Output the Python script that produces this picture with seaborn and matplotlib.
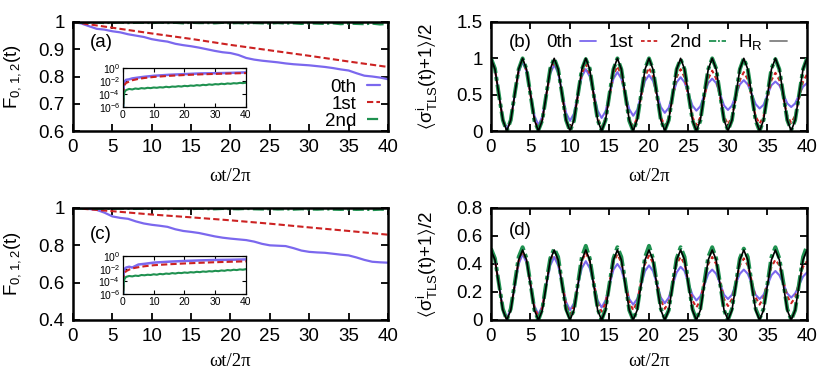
import numpy as np
import pandas as pd
import matplotlib
matplotlib.use("Agg")
import matplotlib.pyplot as plt
from matplotlib.ticker import FuncFormatter, FixedLocator
import seaborn as sns

# ---------------- data ----------------
# fidelity panels (a) and (c): time grid in units of wt/2pi
t_fid = list(range(0, 41))
fid_a_0th = [1.0, .995, .985, .975, .972, .966, .962, .955, .950, .945, .937,
             .932, .928, .920, .915, .911, .906, .900, .894, .889, .886,
             .879, .868, .862, .858, .855, .852, .848, .845, .843, .841,
             .838, .835, .831, .826, .822, .812, .803, .800, .796, .790]
fid_a_2nd = [1.0, .998, .997, .998, .996, .997, .998, .996, .997, .997, .996,
             .998, .996, .997, .995, .997, .996, .996, .995, .997, .995,
             .996, .994, .996, .995, .994, .996, .994, .995, .993, .995,
             .994, .993, .995, .992, .994, .993, .992, .994, .991, .993]
fid_c_0th = [1.0, .998, .995, .990, .975, .955, .947, .942, .928, .917, .910,
             .905, .899, .886, .877, .872, .866, .857, .848, .841, .836,
             .832, .828, .820, .808, .800, .798, .796, .785, .772, .765,
             .762, .760, .755, .750, .746, .735, .722, .712, .709, .707]
fid_c_2nd = [1.0, .997, .998, .996, .997, .995, .997, .996, .995, .997, .995,
             .996, .994, .996, .995, .994, .996, .994, .993, .995, .994,
             .993, .995, .993, .992, .994, .992, .993, .991, .993, .992,
             .991, .993, .991, .990, .992, .990, .991, .989, .991, .990]
t_red = [0, 5, 10, 15, 20, 25, 30, 35, 40]
fid_a_1st = [1.0, .979, .958, .938, .916, .896, .876, .855, .835]
fid_c_1st = [1.0, .983, .965, .950, .934, .916, .896, .877, .857]

# insets: 1 - F on log scale
t_in = [0, .25, .5, 1, 2, 3, 5, 7, 10, 15, 20, 25, 30, 35, 40]
inf_a_0th = [1e-7, 2e-3, 8e-3, 1.5e-2, 1.8e-2, 2.5e-2, 3.4e-2, 4.5e-2, 6.3e-2,
             9e-2, .114, .145, .159, .178, .21]
inf_a_1st = [1e-7, 6e-4, 2.5e-3, 5e-3, 8e-3, 1.3e-2, 2.1e-2, 2.9e-2, 4.2e-2,
             6.2e-2, 8.3e-2, .104, .124, .145, .165]
inf_c_0th = [1e-7, 2.5e-3, 9e-3, 1.5e-2, 2e-2, 1.5e-2, 4.5e-2, 5.8e-2, 9e-2,
             .128, .164, .2, .235, .254, .29]
inf_c_1st = [1e-7, 6e-4, 2e-3, 4e-3, 7e-3, 1.1e-2, 1.7e-2, 2.4e-2, 3.5e-2,
             5e-2, 6.6e-2, 8.4e-2, .104, .123, .143]
t_in_g = [0, .25, .5] + list(range(1, 41))
inf_a_2nd = [1e-7, 5e-5, 2e-4, 4e-4, 6e-4, 5e-4, 7e-4, 6e-4, 8e-4, 7e-4, 9e-4,
             8e-4, 1.0e-3, 9e-4, 1.1e-3, 1.0e-3, 1.3e-3, 1.1e-3, 1.4e-3, 1.3e-3,
             1.6e-3, 1.4e-3, 1.8e-3, 1.6e-3, 2.0e-3, 1.8e-3, 2.3e-3, 2.0e-3,
             2.6e-3, 2.3e-3, 3.0e-3, 2.6e-3, 3.3e-3, 3.0e-3, 3.8e-3, 3.3e-3,
             4.2e-3, 3.7e-3, 4.6e-3, 4.2e-3, 5.2e-3, 4.7e-3, 5.5e-3]
inf_c_2nd = [1e-7, 6e-5, 2.5e-4, 5e-4, 7e-4, 6e-4, 8e-4, 7e-4, 1.0e-3, 9e-4,
             1.1e-3, 1.0e-3, 1.3e-3, 1.1e-3, 1.5e-3, 1.3e-3, 1.7e-3, 1.5e-3,
             2.0e-3, 1.7e-3, 2.2e-3, 2.0e-3, 2.5e-3, 2.2e-3, 2.8e-3, 2.5e-3,
             3.2e-3, 2.8e-3, 3.6e-3, 3.2e-3, 4.0e-3, 3.6e-3, 4.6e-3, 4.0e-3,
             5.2e-3, 4.6e-3, 6.0e-3, 5.3e-3, 6.8e-3, 6.0e-3, 7.6e-3, 6.8e-3,
             8.5e-3]

# TLS population panels (b) and (d), sampled every half unit
t_osc = np.linspace(0, 40, 81)
pop_b_0th = [1.0, .86, .51, .16, .02, .16, .49, .81, .95, .82, .52, .21, .08,
             .20, .50, .79, .91, .80, .53, .25, .14, .24, .50, .75, .85, .75,
             .52, .28, .18, .27, .50, .72, .81, .72, .51, .30, .21, .29, .49,
             .69, .77, .69, .51, .33, .25, .32, .50, .67, .74, .67, .51, .35,
             .28, .34, .50, .66, .72, .66, .51, .35, .29, .35, .50, .64, .70,
             .64, .51, .37, .31, .36, .50, .63, .68, .63, .51, .38, .33, .38,
             .50, .61, .66]
pop_b_1st = [1.0, .85, .50, .15, .0, .14, .49, .83, .97, .83, .50, .16, .02,
             .16, .49, .81, .95, .82, .49, .16, .03, .16, .48, .79, .92, .79,
             .49, .18, .05, .17, .47, .77, .89, .77, .48, .18, .06, .18, .47,
             .75, .87, .75, .47, .19, .07, .18, .46, .74, .85, .74, .47, .19,
             .08, .19, .46, .72, .83, .72, .46, .20, .09, .20, .45, .70, .81,
             .71, .46, .20, .10, .20, .45, .70, .80, .70, .46, .21, .11, .21,
             .45, .68, .78]
pop_b_2nd = [1.0, .86, .50, .15, .0, .15, .51, .85, 1.0, .85, .50, .14, .01,
             .15, .50, .86, 1.0, .85, .51, .15, .0, .14, .50, .85, .99, .86,
             .50, .15, .01, .15, .51, .85, 1.0, .85, .50, .14, .0, .15, .50,
             .86, 1.0, .85, .51, .15, .01, .15, .50, .85, .99, .85, .50, .15,
             .0, .14, .51, .85, 1.0, .86, .50, .15, .01, .15, .50, .85, 1.0,
             .85, .50, .14, .0, .15, .51, .86, .99, .85, .50, .15, .01, .15,
             .50, .85, 1.0]
pop_b_hr = [1.0, .85, .5, .15, 0, .15, .5, .85] * 10 + [1.0]
pop_d_0th = [.50, .43, .26, .08, .01, .08, .24, .40, .47, .41, .26, .10, .04,
             .10, .25, .39, .45, .39, .26, .13, .07, .12, .25, .37, .42, .37,
             .26, .14, .09, .14, .25, .36, .40, .36, .26, .15, .11, .15, .25,
             .35, .39, .35, .26, .16, .12, .16, .25, .34, .38, .35, .26, .18,
             .14, .17, .25, .33, .36, .33, .26, .18, .15, .18, .26, .33, .36,
             .33, .26, .18, .15, .18, .25, .32, .35, .32, .26, .19, .16, .19,
             .25, .31, .34]
pop_d_1st = [.50, .43, .25, .07, .0, .07, .25, .42, .49, .42, .26, .09, .02,
             .09, .26, .42, .49, .42, .27, .11, .04, .10, .26, .42, .48, .42,
             .27, .12, .06, .12, .27, .41, .47, .41, .27, .13, .07, .13, .27,
             .40, .46, .41, .27, .14, .08, .13, .27, .40, .45, .40, .27, .14,
             .09, .14, .27, .40, .45, .40, .28, .15, .10, .15, .27, .39, .44,
             .39, .28, .16, .11, .16, .27, .38, .43, .39, .28, .17, .12, .16,
             .27, .38, .42]
pop_d_2nd = [.51, .44, .26, .08, .0, .08, .26, .45, .52, .44, .26, .07, .0,
             .08, .27, .44, .51, .45, .26, .08, .01, .07, .26, .45, .53, .44,
             .26, .08, .0, .08, .26, .44, .52, .45, .27, .07, .0, .08, .26,
             .45, .53, .44, .26, .08, .01, .07, .26, .44, .52, .45, .26, .08,
             .0, .08, .27, .45, .52, .44, .26, .07, .0, .08, .26, .44, .51,
             .45, .26, .08, .01, .08, .26, .45, .52, .44, .27, .08, .0, .07,
             .26, .45, .53]
pop_d_hr = [.5, .43, .25, .07, 0, .07, .25, .43] * 10 + [.5]

# ---------------- style ----------------
sns.set_style("ticks")
plt.rcParams["font.family"] = ["Liberation Sans", "DejaVu Sans"]
plt.rcParams["mathtext.default"] = "regular"
plt.rcParams["axes.linewidth"] = 1.8
plt.rcParams["axes.edgecolor"] = "black"
plt.rcParams["text.color"] = "black"
plt.rcParams["axes.labelcolor"] = "black"
plt.rcParams["xtick.color"] = "black"
plt.rcParams["ytick.color"] = "black"
plt.rcParams["xtick.direction"] = "in"
plt.rcParams["ytick.direction"] = "in"

C0, C1, C2, CH = "#7b68ee", "#cc2222", "#1f9150", "black"
FS = 13.5

fig = plt.figure(figsize=(8.37, 3.74), dpi=100)
W = 837.0
H = 374.0


def box(l, t, r, b):
    return [l / W, 1 - b / H, (r - l) / W, (b - t) / H]


ax_a = fig.add_axes(box(73, 22, 388, 131))
ax_b = fig.add_axes(box(491, 22, 807, 131))
ax_c = fig.add_axes(box(73, 208, 388, 320))
ax_d = fig.add_axes(box(491, 208, 807, 320))
in_a = fig.add_axes(box(123, 68, 246, 107))
in_c = fig.add_axes(box(123, 256, 246, 294))

fmt = FuncFormatter(lambda v, p: "%g" % v)


def style_main(ax, yticks, ylab, ylab_x, xlab_y, tag, tag_y):
    ax.set_xlim(0, 40)
    ax.set_ylim(yticks[0], yticks[-1])
    ax.xaxis.set_major_locator(FixedLocator(range(0, 41, 5)))
    ax.yaxis.set_major_locator(FixedLocator(yticks))
    ax.xaxis.set_major_formatter(fmt)
    ax.yaxis.set_major_formatter(fmt)
    ax.tick_params(direction="in", top=True, right=True, length=5, width=1.3,
                   labelsize=FS, pad=6)
    ax.set_xlabel("ωt/2π", fontsize=FS, family=["Liberation Serif", "DejaVu Serif"])
    ax.xaxis.set_label_coords(0.5, xlab_y)
    ax.set_ylabel(ylab, fontsize=FS)
    ax.yaxis.set_label_coords(ylab_x, 0.5)
    ax.text(0.055, tag_y, tag, transform=ax.transAxes, fontsize=FS,
            va="center")


def style_inset(ax):
    ax.set_yscale("log")
    ax.set_xlim(0, 40)
    ax.set_ylim(1e-6, 1)
    ax.xaxis.set_major_locator(FixedLocator([0, 10, 20, 30, 40]))
    ax.yaxis.set_major_locator(FixedLocator([1e-6, 1e-4, 1e-2, 1]))
    ax.yaxis.set_minor_locator(FixedLocator([]))
    ax.yaxis.set_major_formatter(FuncFormatter(
        lambda v, p: "$10^{%d}$" % round(np.log10(v))))
    ax.tick_params(direction="in", top=True, right=True, length=3, width=0.8,
                   labelsize=7.5, pad=2)
    for s in ax.spines.values():
        s.set_linewidth(0.9)


# (a) and (c)
for ax, f0, f1, f2 in [(ax_a, fid_a_0th, fid_a_1st, fid_a_2nd),
                       (ax_c, fid_c_0th, fid_c_1st, fid_c_2nd)]:
    sns.lineplot(x=t_fid, y=f0, ax=ax, color=C0, lw=1.6, label="0th")
    sns.lineplot(x=t_red, y=f1, ax=ax, color=C1, lw=1.5, label="1st",
                 linestyle=(0, (3, 1.5)))
    sns.lineplot(x=t_fid, y=f2, ax=ax, color=C2, lw=1.6, label="2nd",
                 linestyle=(0, (5, 1.5, 1, 1.5)))

for ax, i0, i1, i2 in [(in_a, inf_a_0th, inf_a_1st, inf_a_2nd),
                       (in_c, inf_c_0th, inf_c_1st, inf_c_2nd)]:
    sns.lineplot(x=t_in, y=i0, ax=ax, color=C0, lw=1.8)
    sns.lineplot(x=t_in, y=i1, ax=ax, color=C1, lw=1.5,
                 linestyle=(0, (3, 1.5)))
    sns.lineplot(x=t_in_g, y=i2, ax=ax, color=C2, lw=1.5)
    style_inset(ax)

# (b) and (d)
for ax, p0, p1, p2, ph in [(ax_b, pop_b_0th, pop_b_1st, pop_b_2nd, pop_b_hr),
                           (ax_d, pop_d_0th, pop_d_1st, pop_d_2nd, pop_d_hr)]:
    sns.lineplot(x=t_osc, y=p0, ax=ax, color=C0, lw=1.5, label="0th")
    sns.lineplot(x=t_osc, y=p1, ax=ax, color=C1, lw=1.5, label="1st",
                 linestyle=(0, (2, 1.5)))
    sns.lineplot(x=t_osc, y=p2, ax=ax, color=C2, lw=2.8, label="2nd",
                 linestyle=(0, (4, 1, 1, 1)))
    sns.lineplot(x=t_osc, y=ph, ax=ax, color=CH, lw=1.2, label="H$_R$")

sig = r"$\langle$σ$^{i}_{TLS}$(t)+1$\rangle$/2"
style_main(ax_a, [0.6, 0.7, 0.8, 0.9, 1.0], "F$_{0,1,2}$(t)", -0.16, -0.34,
           "(a)", 0.81)
style_main(ax_c, [0.4, 0.6, 0.8, 1.0], "F$_{0,1,2}$(t)", -0.16, -0.295,
           "(c)", 0.76)
style_main(ax_b, [0, 0.5, 1.0, 1.5], sig, -0.16, -0.34, "(b)", 0.81)
style_main(ax_d, [0, 0.2, 0.4, 0.6, 0.8], sig, -0.16, -0.295, "(d)", 0.80)

# legends
leg = ax_a.legend(loc="lower right", frameon=False, markerfirst=False,
                  fontsize=FS, handlelength=0.7, labelspacing=0.0,
                  borderaxespad=0.0, handletextpad=0.6,
                  bbox_to_anchor=(1.0, -0.06))
leg_b = ax_b.legend(loc="upper right", frameon=False, markerfirst=False,
                    fontsize=FS, ncol=4, handlelength=0.9, columnspacing=0.65,
                    handletextpad=0.4, bbox_to_anchor=(0.99, 1.06))
leg_b.legend_handles[3].set_color("gray")
for lh in leg_b.legend_handles:
    lh.set_linewidth(1.3)
ax_c.get_legend().remove()
ax_d.get_legend().remove()

fig.savefig("out.png", dpi=100)
